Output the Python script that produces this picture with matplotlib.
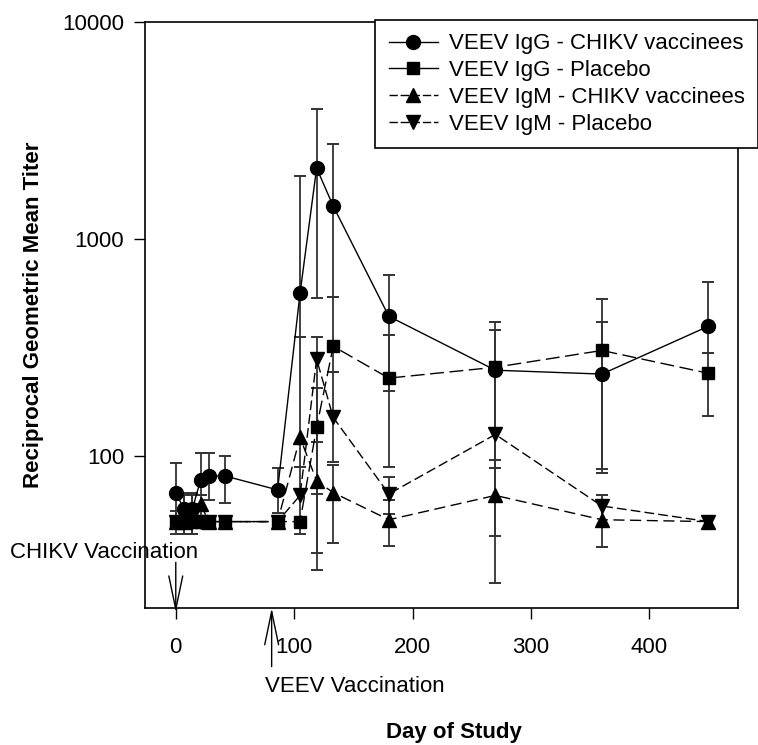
import matplotlib
matplotlib.use('Agg')
import matplotlib.pyplot as plt
import numpy as np
from matplotlib.lines import Line2D
from matplotlib.ticker import NullLocator

plt.rcParams['font.family'] = ['Liberation Sans', 'DejaVu Sans']

# ---------------- data ----------------
days = [0, 7, 14, 21, 28, 42, 86, 105, 119, 133, 180, 270, 360, 450]

igg_chikv    = [68, 57, 57, 78, 81, 81, 70, 564, 2124, 1420, 441, 249, 239, 397]
igg_chikv_lo = [50, 50, 50, 66, 63, 61, 55, 353, 535, 541, 200, 96, 87, 300]
igg_chikv_hi = [93, 66, 66, 104, 104, 100, 88, 1950, 3975, 2740, 682, 381, 415, 634]

igg_placebo    = [50, 50, 50, 50, 50, 50, 50, 50, 136, 321, 229, 257, 307, 241]
igg_placebo_lo = [44, 44, 44, 50, 50, 50, 50, 44, 67, 244, 89, 88, 84, 153]
igg_placebo_hi = [56, 68, 68, 50, 50, 50, 50, 50, 206, 541, 361, 415, 530, 300]

igm_chikv    = [50, 50, 52, 60, 50, 50, 50, 122, 77, 68, 51, 66, 51, 50]
igm_chikv_lo = [50, 50, 50, 50, 50, 50, 50, 89, 30, 40, 38.5, 26, 38, 50]
igm_chikv_hi = [50, 50, 60, 66, 50, 50, 50, 353, 116, 91, 63, 88, 66, 50]

igm_placebo    = [50, 50, 50, 50, 50, 50, 50, 66, 280, 151, 67, 126, 59, 50]
igm_placebo_lo = [50, 44, 44, 50, 50, 50, 50, 52, 36, 94, 54, 43, 59, 50]
igm_placebo_hi = [50, 56, 56, 50, 50, 50, 50, 89, 353, 244, 80, 126, 59, 50]

labels = ['VEEV IgG - CHIKV vaccinees', 'VEEV IgG - Placebo',
          'VEEV IgM - CHIKV vaccinees', 'VEEV IgM - Placebo']
y_ticks = [100, 1000, 10000]
y_ticklabels = ['100', '1000', '10000']
x_ticks = [0, 100, 200, 300, 400]
chikv_day = 0
veev_day = 81

# ---------------- figure ----------------
W, H = 758, 745
fig = plt.figure(figsize=(W / 100, H / 100), dpi=100)
ax = fig.add_axes([145 / W, 137 / H, 593 / W, 586 / H])
ax.set_yscale('log')
ax.set_ylim(20, 10000)
ax.set_xlim(-26, 475)

ecol = '#333333'
series = [
    (igg_chikv, igg_chikv_lo, igg_chikv_hi, dict(marker='o', ms=10, ls='-')),
    (igg_placebo, igg_placebo_lo, igg_placebo_hi, dict(marker='s', ms=9, ls=(0, (10, 4)))),
    (igm_chikv, igm_chikv_lo, igm_chikv_hi, dict(marker='^', ms=10, ls=(0, (8, 4)))),
    (igm_placebo, igm_placebo_lo, igm_placebo_hi, dict(marker='v', ms=10, ls=(0, (7, 3)))),
]
x = np.array(days, dtype=float)
for val, lo, hi, st in series:
    v = np.array(val, float); l = np.array(lo, float); h = np.array(hi, float)
    ax.errorbar(x, v, yerr=[v - l, h - v], fmt='none', ecolor=ecol,
                elinewidth=1.3, capsize=0, zorder=2, clip_on=False)
    ml = (v - l) > 0
    mh = (h - v) > 0
    ax.plot(x[ml], l[ml], ls='none', marker='_', ms=9, mew=1.4, color=ecol, zorder=2)
    ax.plot(x[mh], h[mh], ls='none', marker='_', ms=9, mew=1.4, color=ecol, zorder=2)
    ax.plot(x, v, color='black', lw=1.0, linestyle=st['ls'], marker=st['marker'],
            ms=st['ms'], mfc='black', mec='black', zorder=4)

# ticks
ax.set_yticks(y_ticks)
ax.set_yticklabels(y_ticklabels)
ax.yaxis.set_minor_locator(NullLocator())
ax.set_xticks(x_ticks)
ax.tick_params(direction='out', length=8, width=1, labelsize=16, colors='black')
ax.tick_params(axis='y', pad=7)
ax.tick_params(axis='x', pad=13)
for s in ax.spines.values():
    s.set_linewidth(1.2)
    s.set_color('black')

ax.set_ylabel('Reciprocal Geometric Mean Titer', fontsize=16, fontweight='bold')
ax.yaxis.set_label_coords(-0.17, 0.5)
ax.set_xlabel('Day of Study', fontsize=16, fontweight='bold')
ax.xaxis.set_label_coords(0.521, -0.195)

# vaccination annotations
fig.text(10 / W, 1 - 552 / H, 'CHIKV Vaccination', fontsize=16, ha='left', va='center')
ax.annotate('', xy=(chikv_day, -0.008), xycoords=('data', 'axes fraction'),
            xytext=(chikv_day, 0.078), textcoords=('data', 'axes fraction'),
            arrowprops=dict(arrowstyle='->,head_length=1.2,head_width=0.25', lw=1.0,
                            color='black', shrinkA=0, shrinkB=0, mutation_scale=20),
            annotation_clip=False)
fig.text(355 / W, 1 - 686 / H, 'VEEV Vaccination', fontsize=16, ha='center', va='center')
ax.annotate('', xy=(veev_day, 0.0), xycoords=('data', 'axes fraction'),
            xytext=(veev_day, -0.1), textcoords=('data', 'axes fraction'),
            arrowprops=dict(arrowstyle='->,head_length=1.2,head_width=0.25', lw=1.0,
                            color='black', shrinkA=0, shrinkB=0, mutation_scale=20),
            annotation_clip=False)

# legend
handles = [
    Line2D([], [], color='black', lw=1.0, ls='-', marker='o', ms=10),
    Line2D([], [], color='black', lw=1.0, ls='-', marker='s', ms=9),
    Line2D([], [], color='black', lw=1.0, ls=(0, (6, 2)), marker='^', ms=10),
    Line2D([], [], color='black', lw=1.0, ls=(0, (6, 2)), marker='v', ms=10),
]
leg = ax.legend(handles, labels, loc='upper right', bbox_to_anchor=(1.0, 1 - 20 / H),
                bbox_transform=fig.transFigure, fontsize=16, frameon=True, fancybox=False,
                edgecolor='black', framealpha=1, borderaxespad=0, labelspacing=0.26,
                handlelength=2.2, handletextpad=0.5, borderpad=0.6)
leg.get_frame().set_linewidth(1.2)
leg.set_zorder(10)

fig.savefig('out.png', dpi=100)
